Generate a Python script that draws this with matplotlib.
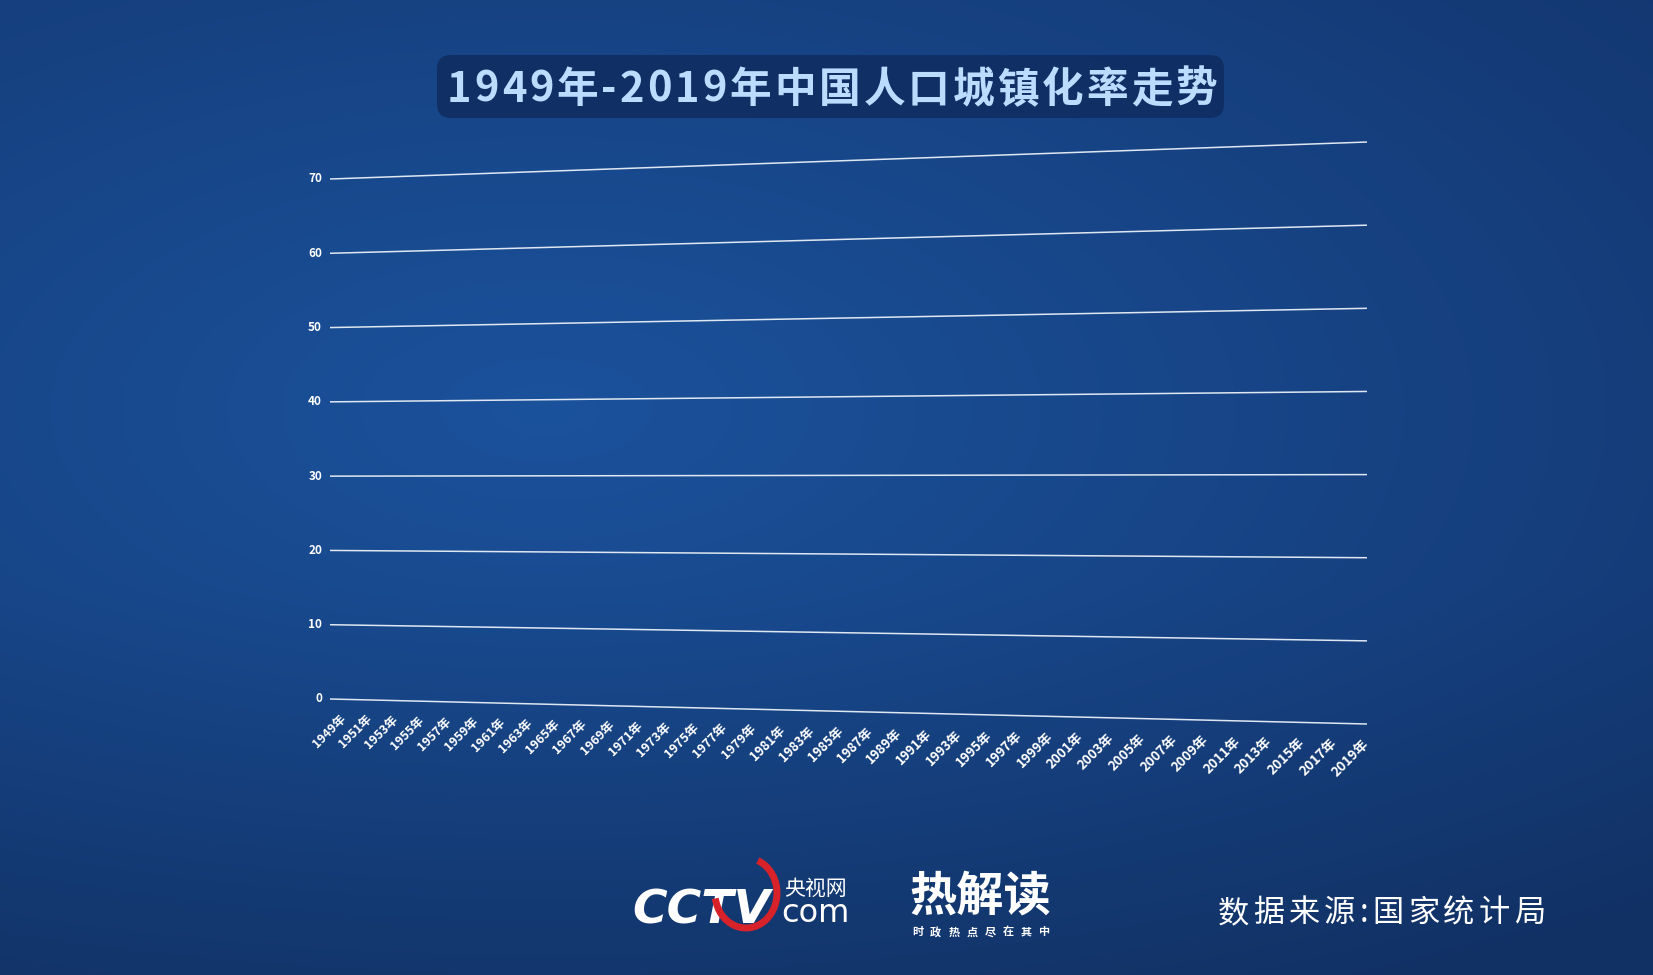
import numpy as np
import matplotlib.pyplot as plt
from matplotlib.patches import FancyBboxPatch, Arc

plt.rcParams['font.family'] = ['Noto Sans CJK SC', 'DejaVu Sans']

# data: the category axis (years) and the value axis ticks (%)
years = [1949, 1951, 1953, 1955, 1957, 1959, 1961, 1963, 1965, 1967, 1969, 1971,
         1973, 1975, 1977, 1979, 1981, 1983, 1985, 1987, 1989, 1991, 1993, 1995,
         1997, 1999, 2001, 2003, 2005, 2007, 2009, 2011, 2013, 2015, 2017, 2019]
year_labels = [str(y) + '年' for y in years]
y_ticks = [0, 10, 20, 30, 40, 50, 60, 70]
first_year, last_year = 1949, 2019

title = '1949年-2019年中国人口城镇化率走势'
source = '数据来源:国家统计局'

W, H = 1653, 975

# perspective mapping of the chart plane onto the picture (pixels)
g = -0.1065
h11, h13 = 891.4, 330.0
h21, h22, h23 = -52.1, -520.0 / 70, 699.0


def proj(year, val):
    s = (np.asarray(year, float) - first_year) / (last_year - first_year)
    w = 1 + g * s
    x = (h11 * s + h13) / w
    y = (h21 * s + h22 * np.asarray(val, float) + h23) / w
    return x, y


def spaced_text(ax, x0, x1, y, txt, **kw):
    # lay out characters one by one so the string fills x0..x1
    fig = ax.figure
    r = fig.canvas.get_renderer()
    items = []
    total = 0
    for ch in txt:
        t = ax.text(0, y, ch, ha='left', va='center', **kw)
        bb = t.get_window_extent(renderer=r)
        items.append((t, bb.width))
        total += bb.width
    gap = (x1 - x0 - total) / (len(txt) - 1)
    x = x0
    for t, w in items:
        t.set_x(x)
        x += w + gap


fig = plt.figure(figsize=(W / 100, H / 100), dpi=100)
ax = fig.add_axes([0, 0, 1, 1])
ax.set_xlim(0, W)
ax.set_ylim(H, 0)
ax.axis('off')

# background gradient
xx, yy = np.meshgrid(np.linspace(0, 1, 400), np.linspace(0, 1, 240))
d = np.sqrt(((xx - 0.33) / 0.9) ** 2 + ((yy - 0.42) / 0.75) ** 2)
d = np.clip(d, 0, 1)
c_in = np.array([0x1b, 0x52, 0x9c]) / 255
c_out = np.array([0x13, 0x36, 0x6f]) / 255
img = c_in[None, None, :] * (1 - d[..., None]) + c_out[None, None, :] * d[..., None]
img = img * (1 - 0.25 * np.clip(yy - 0.6, 0, 1)[..., None])
ax.imshow(img, extent=[0, W, H, 0], aspect='auto', zorder=0, interpolation='bicubic')

# grid lines
for v in y_ticks:
    xs, ys = proj([first_year, last_year], [v, v])
    ax.plot(xs, ys, color='#dfe7f2', lw=1.1, zorder=2, solid_capstyle='butt')
    ax.text(xs[0] - 8, ys[0], str(v), color='white', fontsize=8.5, ha='right',
            va='center', fontweight='bold', zorder=3)

# category labels
n = len(years)
for i, lab in enumerate(year_labels):
    s = i / (n - 1)
    x, y = proj(years[i], 0)
    sc = 1 / (1 + g * s)
    ax.text(x + 9 - 14 * s, y + 13, lab, color='white', fontsize=8.8 * sc,
            rotation=45, rotation_mode='anchor', ha='right', va='top',
            fontweight='bold', zorder=3)

# title box
box = FancyBboxPatch((440, 58), 781, 57, boxstyle='round,pad=3,rounding_size=14',
                     fc='#0f2d62', ec='none', alpha=0.9, zorder=3)
ax.add_patch(box)
spaced_text(ax, 447, 1217, 90, title, color='#bcdcff', fontsize=30,
            fontweight='bold', zorder=4)

# logos (approximated with text)
ax.text(632, 911, 'CCTV', color='white', fontsize=34, fontweight='bold',
        ha='left', va='center', zorder=4, family='DejaVu Sans', style='italic')
ax.add_patch(Arc((746, 893), 62, 70, theta1=-70, theta2=170, color='#d8222a',
                 lw=5, zorder=5))
ax.text(815, 889, '央视网', color='white', fontsize=15, ha='center', va='center',
        zorder=4)
ax.text(815, 914, 'com', color='white', fontsize=23, ha='center', va='center',
        zorder=4, family='DejaVu Sans')
ax.text(980, 897, '热解读', color='white', fontsize=34, fontweight='bold',
        ha='center', va='center', zorder=4, style='italic')
spaced_text(ax, 912, 1050, 932, '时政热点尽在其中', color='white', fontsize=8,
            fontweight='bold', zorder=4)

spaced_text(ax, 1218, 1545, 913, source, color='white', fontsize=22.5,
            fontweight='light', zorder=4)

fig.savefig('out.png', dpi=100)
